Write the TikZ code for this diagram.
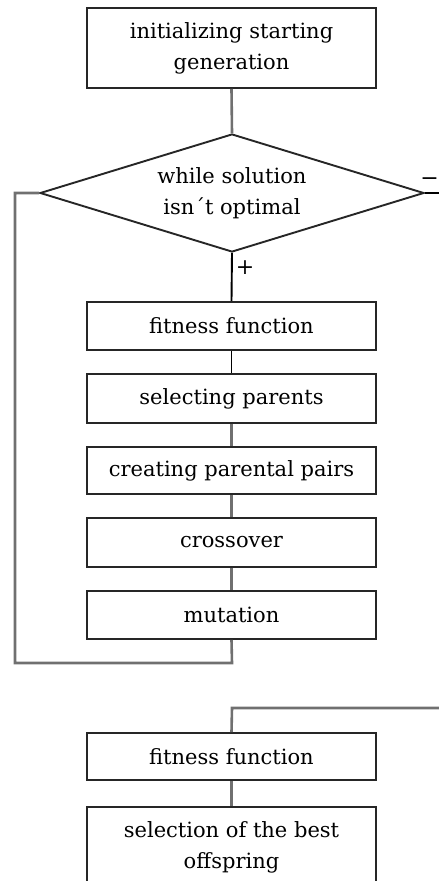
\documentclass[tikz,border=0pt]{standalone}
\usepackage{fontspec}
\setmainfont{DejaVu Serif}
\usetikzlibrary{shapes.geometric}
\definecolor{conn}{HTML}{707070}
\definecolor{edge}{HTML}{262626}
\begin{document}
\begin{tikzpicture}[x=1pt,y=-1pt,
  stepbox/.style={draw=edge,line width=1.9pt,rectangle,minimum width=289pt,inner sep=0pt,align=center,font=\fontsize{21}{31}\selectfont},
  decide/.style={draw=edge,line width=1.9pt,diamond,aspect=3.254,minimum width=384pt,minimum height=118pt,inner sep=0pt,align=center,font=\fontsize{21}{31}\selectfont},
  grayline/.style={draw=conn,line width=2.6pt},
  blackline/.style={draw=black,line width=1.9pt},
  sign/.style={font=\fontsize{22}{22}\selectfont,inner sep=0pt}]
\useasboundingbox (0,0) rectangle (439,881);
\node[stepbox,minimum height=80pt] (init) at (231.5,48) {initializing starting\\generation};
\node[decide] (loop) at (232,193) {while solution\\isn´t optimal};
\node[stepbox,minimum height=48pt] (fit) at (231.5,326) {fitness function};
\node[stepbox,minimum height=49pt] (sel) at (231.5,398.5) {selecting parents};
\node[stepbox,minimum height=47pt] (pairs) at (231.5,470.5) {creating parental pairs};
\node[stepbox,minimum height=49pt] (cross) at (231.5,542.5) {crossover};
\node[stepbox,minimum height=48pt] (mut) at (231.5,615) {mutation};
\node[stepbox,minimum height=47pt] (fit2) at (231.5,756.5) {fitness function};
\node[stepbox,minimum height=80pt] (best) at (231.5,847) {selection of the best\\offspring};
\node[sign] (minus) at (429.5,182) {−};
\node[sign] (plus) at (245,268) {+};
\coordinate (lcorner) at (15,193);
\coordinate (lbottom) at (15,663);
\coordinate (rbottom) at (232,663);
\coordinate (rexit) at (439,193);
\coordinate (bentry) at (439,708);
\coordinate (bcorner) at (232,708);
\draw[grayline] (init.south) -- (loop.north);
\draw[blackline] (loop.south) -- (fit.north);
\draw[blackline] (fit.south) -- (sel.north);
\draw[grayline] (sel.south) -- (pairs.north);
\draw[grayline] (pairs.south) -- (cross.north);
\draw[grayline] (cross.south) -- (mut.north);
\draw[grayline] (mut.south) -- (rbottom) -- (lbottom) -- (lcorner) -- (loop.west);
\draw[blackline] (loop.east) -- (rexit);
\draw[grayline] (bentry) -- (bcorner) -- (fit2.north);
\draw[grayline] (fit2.south) -- (best.north);
\end{tikzpicture}
\end{document}
